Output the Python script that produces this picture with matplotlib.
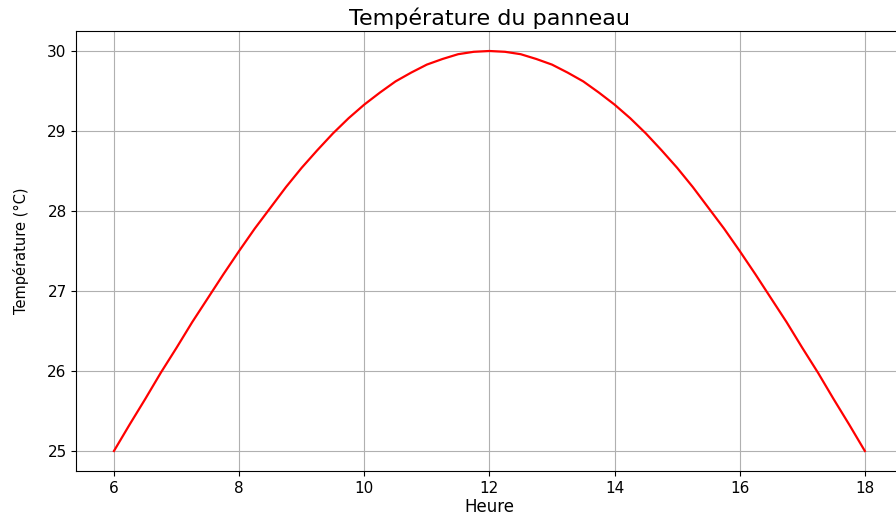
import matplotlib
matplotlib.use("Agg")
import matplotlib.pyplot as plt

# heures (pas de 15 min) et temperatures
heures = [6.0, 6.25, 6.5, 6.75, 7.0, 7.25, 7.5, 7.75, 8.0, 8.25, 8.5, 8.75,
          9.0, 9.25, 9.5, 9.75, 10.0, 10.25, 10.5, 10.75, 11.0, 11.25, 11.5, 11.75,
          12.0, 12.25, 12.5, 12.75, 13.0, 13.25, 13.5, 13.75, 14.0, 14.25, 14.5, 14.75,
          15.0, 15.25, 15.5, 15.75, 16.0, 16.25, 16.5, 16.75, 17.0, 17.25, 17.5, 17.75,
          18.0]
temperatures = [25.00, 25.33, 25.65, 25.98, 26.29, 26.61, 26.91, 27.21, 27.50,
                27.78, 28.04, 28.30, 28.54, 28.76, 28.97, 29.16, 29.33, 29.48,
                29.62, 29.73, 29.83, 29.90, 29.96, 29.99, 30.00,
                29.99, 29.96, 29.90, 29.83, 29.73, 29.62, 29.48, 29.33, 29.16,
                28.97, 28.76, 28.54, 28.30, 28.04, 27.78, 27.50, 27.21, 26.91,
                26.61, 26.29, 25.98, 25.65, 25.33, 25.00]
xticks = [6, 8, 10, 12, 14, 16, 18]
yticks = [25, 26, 27, 28, 29, 30]

fig = plt.figure(figsize=(8.96, 5.17), dpi=100)
# the axes runs slightly past the right edge (cropped in the reference)
ax = fig.add_axes([76.4 / 896, 46 / 517, 826 / 896, 440 / 517])
ax.plot(heures, temperatures, color="red", linewidth=1.6)
ax.set_xticks(xticks)
ax.set_yticks(yticks)
ax.set_xlim(5.4, 18.6)
ax.set_ylim(24.75, 30.25)
ax.tick_params(labelsize=11)
ax.grid(True)
ax.set_title("Température du panneau", fontsize=16, pad=4)
ax.set_xlabel("Heure", fontsize=12, labelpad=2)
ax.set_ylabel("Température (°C)", fontsize=10.5, labelpad=13)

plt.savefig("out.png", dpi=100)
